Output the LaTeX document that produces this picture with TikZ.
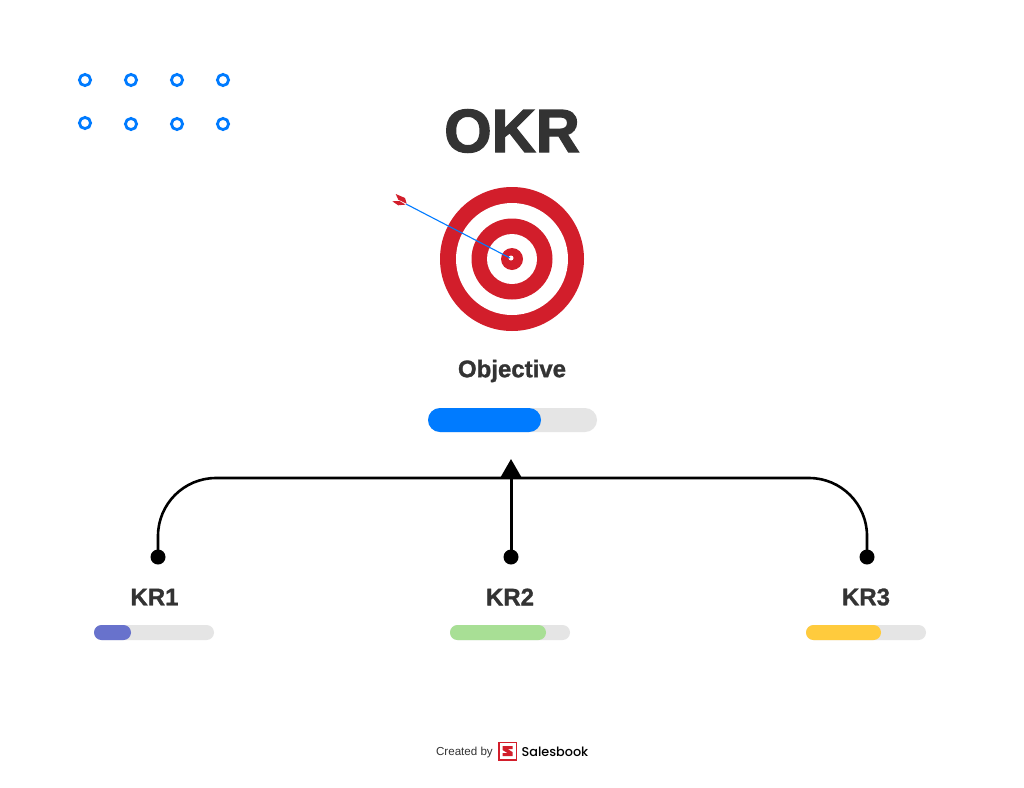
\documentclass[tikz,border=0pt]{standalone}
\usepackage{fontspec}
\setmainfont{Liberation Sans}[BoldFeatures={FakeBold=1.2}]
\newfontfamily\logofont{Poppins Medium}
\newfontfamily\headfont{Liberation Sans Bold}[FakeBold=2.2]
\usetikzlibrary{arrows.meta}
\definecolor{inkgrey}{HTML}{333333}
\definecolor{trackgrey}{HTML}{E5E5E5}
\definecolor{barblue}{HTML}{007BFF}
\definecolor{targetred}{HTML}{D21E2B}
\definecolor{barviolet}{HTML}{6872CC}
\definecolor{bargreen}{HTML}{A8DF95}
\definecolor{baryellow}{HTML}{FFCB3D}
\tikzset{
	ringdot/.style={draw=barblue, line width=2.8pt, fill=white, circle, minimum size=11.2pt, inner sep=0pt},
	enddot/.style={fill=black, circle, minimum size=15pt, inner sep=0pt},
	linkline/.style={line width=2.6pt},
	krtext/.style={text=inkgrey, font=\fontsize{24}{24}\selectfont\bfseries},
}
\begin{document}
\begin{tikzpicture}[x=1pt, y=-1pt]
	%%%%% START %%%%%
	\useasboundingbox (0, 0) rectangle (1024, 787);
	\fill[white] (0, 0) rectangle (1024, 787);

	\node[ringdot] (dot11) at (85, 80) {};
	\node[ringdot] (dot12) at (131, 80) {};
	\node[ringdot] (dot13) at (177, 80) {};
	\node[ringdot] (dot14) at (223, 80) {};
	\node[ringdot] (dot21) at (85, 123) {};
	\node[ringdot] (dot22) at (131, 124) {};
	\node[ringdot] (dot23) at (177, 124) {};
	\node[ringdot] (dot24) at (223, 124) {};

	\node[text=inkgrey, font=\headfont\fontsize{61}{61}\selectfont] (title) at (512, 131) {OKR};

	% target
	\fill[targetred] (512, 259) circle (72);
	\fill[white] (512, 259) circle (56);
	\fill[targetred] (512, 259) circle (40.5);
	\fill[white] (512, 259) circle (25);
	\fill[targetred] (512, 259) circle (11);
	\fill[white] (511, 258) circle (2.5);

	% arrow
	\draw[barblue, line width=1.1pt] (406, 204) -- (510, 258);
	\fill[targetred] (395.7, 194) -- (405, 198) -- (406.7, 203.7) -- (398.3, 199.7) -- cycle;
	\fill[targetred] (392.3, 201.3) -- (399.5, 201) -- (405.5, 204.6) -- (398.3, 205.3) -- cycle;

	\node[krtext] (objective) at (512, 371) {Objective};

	% bars
	\fill[trackgrey, rounded corners=12] (428, 408) rectangle (597, 432);
	\fill[barblue, rounded corners=12] (428, 408) rectangle (541, 432);

	\fill[trackgrey, rounded corners=7.5] (94, 625) rectangle (214, 640);
	\fill[barviolet, rounded corners=7.5] (94, 625) rectangle (131, 640);
	\fill[trackgrey, rounded corners=7.5] (450, 625) rectangle (570, 640);
	\fill[bargreen, rounded corners=7.5] (450, 625) rectangle (546, 640);
	\fill[trackgrey, rounded corners=7.5] (806, 625) rectangle (926, 640);
	\fill[baryellow, rounded corners=7.5] (806, 625) rectangle (881, 640);

	\node[krtext] (kr1) at (154.5, 597) {KR1};
	\node[krtext] (kr2) at (510, 597) {KR2};
	\node[krtext] (kr3) at (866, 597) {KR3};

	% connectors
	\node[enddot] (kr1dot) at (158, 557) {};
	\node[enddot] (kr2dot) at (511, 557) {};
	\node[enddot] (kr3dot) at (867, 557) {};
	\coordinate (hub) at (511, 478);
	\coordinate (tip) at (511, 459);
	\draw[linkline, rounded corners=58] (kr1dot.center) |- (hub);
	\draw[linkline, rounded corners=58] (kr3dot.center) |- (hub);
	\draw[linkline, line width=3pt, -{Triangle[length=19pt, width=21pt]}] (kr2dot.center) -- (tip);

	% footer
	\node[anchor=east, inner sep=0pt, text=inkgrey, font=\fontsize{11.6}{12}\selectfont] (created) at (493, 752.5) {Created by};
	\node[draw=targetred, line width=1.5pt, minimum size=17.5pt, inner sep=0pt] (logo) at (507.5, 751) {};
	\fill[targetred] (502.5, 746) -- (512.5, 746) -- (512.5, 749) -- (507.5, 749) -- (512.5, 752) -- (512.5, 756) -- (502.5, 756) -- (502.5, 753) -- (507.5, 753) -- (502.5, 750) -- cycle;
	\node[anchor=west, inner sep=0pt, text=black, font=\logofont\fontsize{12.8}{13}\selectfont] (salesbook) at (521.5, 751.5) {Salesbook};
	%%%%% END %%%%%
\end{tikzpicture}
\end{document}
